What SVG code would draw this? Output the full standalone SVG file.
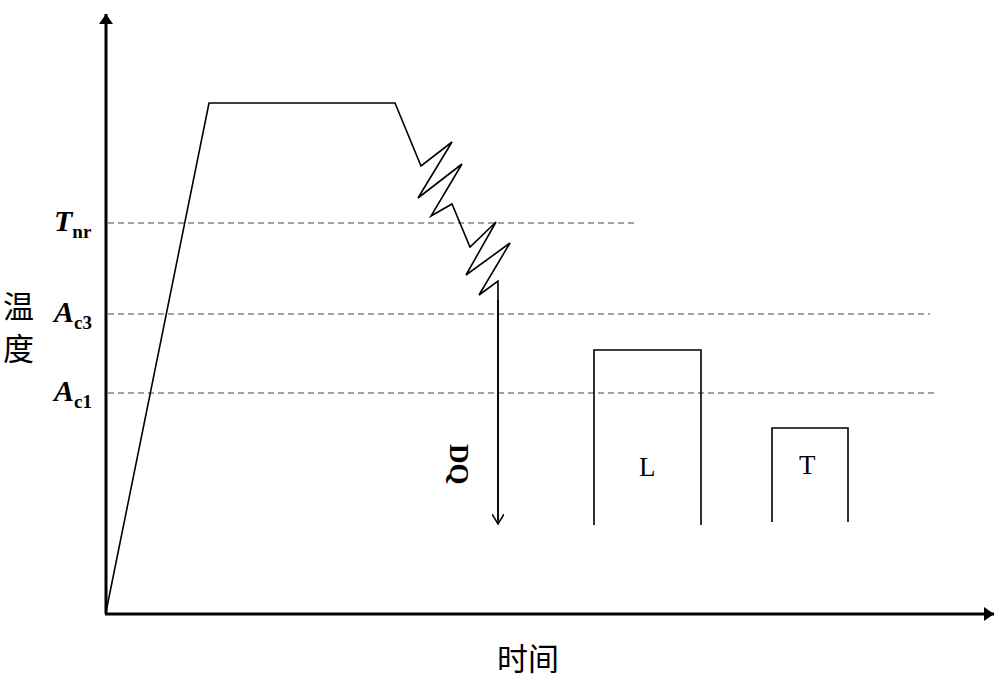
<svg xmlns="http://www.w3.org/2000/svg" width="1000" height="679" viewBox="0 0 1000 679">
<style>
.ln{fill:none;stroke:#000;stroke-width:1.6}
.ax{fill:none;stroke:#000;stroke-width:3}
.ds{stroke:#8a7a96;stroke-width:1.4;stroke-dasharray:6,4}
.lb{font-family:"Liberation Serif",serif;font-weight:bold;font-style:italic;font-size:30px}
.sb{font-family:"Liberation Serif",serif;font-weight:bold;font-size:19px;font-style:normal}
.cj{font-family:"Noto Sans CJK SC",sans-serif;font-size:31px}
</style>
<defs>
<marker id="ah" markerWidth="14" markerHeight="14" refX="10" refY="7" orient="auto" markerUnits="userSpaceOnUse"><path d="M0,0 L10,7 L0,14 Z" fill="#000"/></marker>
<marker id="sa" markerWidth="12" markerHeight="12" refX="10" refY="6" orient="auto" markerUnits="userSpaceOnUse"><path d="M0,0 L10,6 L0,12" fill="none" stroke="#000" stroke-width="1.5"/></marker>
</defs>
<g id="axes">
<line class="ax" x1="106" y1="614" x2="106" y2="14" marker-end="url(#ah)"/>
<line class="ax" x1="105" y1="614" x2="994" y2="614" marker-end="url(#ah)"/>
</g>
<g id="levels">
<line class="ds" x1="108" y1="223" x2="636" y2="223"/>
<line class="ds" x1="108" y1="314" x2="930" y2="314"/>
<line class="ds" x1="108" y1="393" x2="935" y2="393"/>
</g>
<g id="curve">
<polyline class="ln" points="106,612 209,103 395,103 421,166 452,142 418,198 462,164 431,216 452,204 470,247 496,222 466,275 510,243 479,295 498,281 498,520"/>
<line class="ln" x1="498" y1="300" x2="498" y2="524" marker-end="url(#sa)"/>
<polyline class="ln" points="594,525 594,350 701,350 701,525"/>
<polyline class="ln" points="772,522 772,428 848,428 848,522"/>
</g>
<g id="labels">
<text class="lb" x="54" y="231">T<tspan class="sb" dy="7">nr</tspan></text>
<text class="lb" x="54" y="322">A<tspan class="sb" dy="7">c3</tspan></text>
<text class="lb" x="54" y="401">A<tspan class="sb" dy="7">c1</tspan></text>
<text class="cj" x="3" y="318">温</text>
<text class="cj" x="3" y="360">度</text>
<text class="cj" x="497" y="670">时间</text>
<text x="639" y="476" font-family="Liberation Serif,serif" font-size="27">L</text>
<text x="799" y="474" font-family="Liberation Serif,serif" font-size="27">T</text>
<text transform="translate(450,444) rotate(90)" font-family="Liberation Serif,serif" font-weight="bold" font-size="27">DQ</text>
</g>
</svg>
